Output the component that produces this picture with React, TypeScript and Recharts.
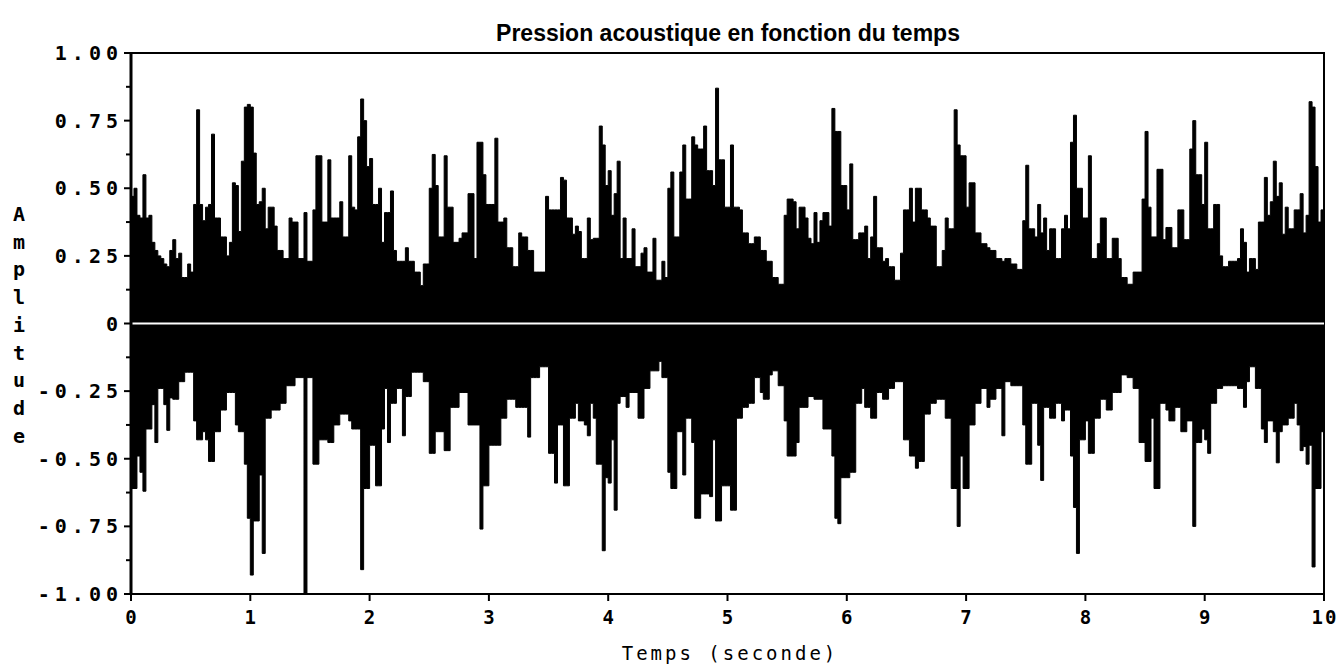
import { Area, ComposedChart, ReferenceArea, ReferenceLine, XAxis, YAxis } from "recharts"

// Envelope of the recorded signal, one value per 25 ms window (40 per second).
const STEP = 0.025

const upperEnvelope = [
	// 0 s
	0.47, 0.5, 0.4, 0.39, 0.55, 0.39, 0.4, 0.3, 0.27, 0.25, 0.24, 0.22, 0.21, 0.27, 0.31, 0.24, 0.26, 0.17, 0.17, 0.22,
	0.19, 0.44, 0.79, 0.44, 0.38, 0.43, 0.44, 0.7, 0.39, 0.39, 0.32, 0.32, 0.25, 0.3, 0.52, 0.51, 0.34, 0.6, 0.8, 0.81,
	// 1 s
	0.8, 0.63, 0.44, 0.45, 0.5, 0.35, 0.43, 0.43, 0.36, 0.27, 0.27, 0.24, 0.24, 0.39, 0.375, 0.375, 0.24, 0.24, 0.41, 0.23,
	0.23, 0.42, 0.62, 0.62, 0.375, 0.375, 0.605, 0.39, 0.39, 0.39, 0.45, 0.32, 0.32, 0.62, 0.43, 0.42, 0.69, 0.83, 0.75, 0.58,
	// 2 s
	0.61, 0.44, 0.44, 0.5, 0.3, 0.41, 0.41, 0.49, 0.27, 0.23, 0.23, 0.23, 0.28, 0.23, 0.23, 0.19, 0.19, 0.14, 0.22, 0.22,
	0.5, 0.625, 0.51, 0.32, 0.32, 0.62, 0.43, 0.43, 0.3, 0.3, 0.315, 0.335, 0.335, 0.48, 0.48, 0.24, 0.67, 0.67, 0.55, 0.44,
	// 3 s
	0.44, 0.44, 0.685, 0.375, 0.375, 0.39, 0.28, 0.28, 0.21, 0.21, 0.335, 0.32, 0.32, 0.27, 0.27, 0.19, 0.19, 0.19, 0.19, 0.47,
	0.42, 0.42, 0.42, 0.42, 0.54, 0.53, 0.39, 0.39, 0.33, 0.36, 0.34, 0.24, 0.24, 0.39, 0.31, 0.315, 0.315, 0.73, 0.66, 0.51,
	// 4 s
	0.565, 0.4, 0.48, 0.6, 0.24, 0.39, 0.24, 0.24, 0.35, 0.21, 0.21, 0.26, 0.28, 0.19, 0.19, 0.315, 0.16, 0.16, 0.23, 0.17,
	0.5, 0.56, 0.32, 0.32, 0.56, 0.66, 0.46, 0.46, 0.69, 0.66, 0.645, 0.645, 0.73, 0.565, 0.565, 0.51, 0.87, 0.605, 0.605, 0.43,
	// 5 s
	0.43, 0.66, 0.43, 0.43, 0.42, 0.335, 0.335, 0.295, 0.295, 0.32, 0.32, 0.27, 0.27, 0.23, 0.23, 0.17, 0.17, 0.145, 0.145, 0.4,
	0.46, 0.46, 0.45, 0.35, 0.43, 0.43, 0.39, 0.315, 0.295, 0.41, 0.3, 0.38, 0.41, 0.41, 0.36, 0.795, 0.71, 0.71, 0.51, 0.51,
	// 6 s
	0.42, 0.59, 0.31, 0.31, 0.335, 0.335, 0.36, 0.24, 0.32, 0.47, 0.28, 0.28, 0.23, 0.24, 0.21, 0.21, 0.16, 0.16, 0.26, 0.42,
	0.42, 0.5, 0.375, 0.5, 0.5, 0.42, 0.42, 0.39, 0.36, 0.36, 0.21, 0.21, 0.27, 0.39, 0.35, 0.35, 0.79, 0.66, 0.62, 0.62,
	// 7 s
	0.43, 0.52, 0.52, 0.335, 0.335, 0.295, 0.295, 0.28, 0.27, 0.27, 0.24, 0.24, 0.23, 0.24, 0.24, 0.22, 0.22, 0.2, 0.2, 0.38,
	0.585, 0.35, 0.35, 0.32, 0.44, 0.335, 0.39, 0.27, 0.35, 0.35, 0.24, 0.24, 0.35, 0.4, 0.35, 0.67, 0.77, 0.5, 0.5, 0.39,
	// 8 s
	0.39, 0.62, 0.24, 0.24, 0.295, 0.39, 0.39, 0.24, 0.24, 0.315, 0.315, 0.24, 0.17, 0.17, 0.145, 0.145, 0.19, 0.19, 0.19, 0.46,
	0.71, 0.43, 0.32, 0.32, 0.57, 0.57, 0.31, 0.355, 0.355, 0.28, 0.28, 0.42, 0.42, 0.31, 0.31, 0.645, 0.75, 0.55, 0.55, 0.44,
	// 9 s
	0.67, 0.35, 0.35, 0.44, 0.44, 0.25, 0.21, 0.21, 0.23, 0.23, 0.23, 0.24, 0.35, 0.3, 0.19, 0.24, 0.24, 0.2, 0.375, 0.375,
	0.54, 0.4, 0.45, 0.6, 0.47, 0.52, 0.33, 0.43, 0.35, 0.35, 0.42, 0.42, 0.48, 0.335, 0.4, 0.82, 0.8, 0.58, 0.375, 0.42,
]

const lowerEnvelope = [
	// 0 s
	-0.61, -0.61, -0.49, -0.55, -0.62, -0.39, -0.39, -0.3, -0.44, -0.24, -0.24, -0.3, -0.395, -0.275, -0.28, -0.28, -0.215, -0.215, -0.18, -0.18,
	-0.18, -0.36, -0.43, -0.43, -0.4, -0.43, -0.51, -0.51, -0.4, -0.4, -0.32, -0.32, -0.255, -0.255, -0.255, -0.375, -0.4, -0.4, -0.52, -0.72,
	// 1 s
	-0.93, -0.73, -0.73, -0.56, -0.85, -0.35, -0.35, -0.32, -0.32, -0.32, -0.295, -0.295, -0.23, -0.23, -0.23, -0.2, -0.2, -0.2, -1.0, -0.2,
	-0.2, -0.52, -0.52, -0.43, -0.43, -0.43, -0.44, -0.44, -0.375, -0.375, -0.335, -0.335, -0.335, -0.36, -0.39, -0.39, -0.39, -0.91, -0.61, -0.61,
	// 2 s
	-0.45, -0.45, -0.6, -0.6, -0.39, -0.24, -0.44, -0.295, -0.295, -0.24, -0.24, -0.415, -0.27, -0.27, -0.18, -0.18, -0.18, -0.18, -0.215, -0.215,
	-0.48, -0.48, -0.4, -0.4, -0.4, -0.47, -0.47, -0.31, -0.31, -0.31, -0.255, -0.255, -0.255, -0.375, -0.375, -0.375, -0.375, -0.76, -0.6, -0.6,
	// 3 s
	-0.45, -0.45, -0.45, -0.45, -0.35, -0.35, -0.28, -0.28, -0.28, -0.31, -0.31, -0.31, -0.31, -0.42, -0.2, -0.2, -0.2, -0.16, -0.16, -0.16,
	-0.48, -0.48, -0.59, -0.375, -0.375, -0.6, -0.6, -0.35, -0.35, -0.295, -0.36, -0.36, -0.375, -0.415, -0.295, -0.35, -0.52, -0.52, -0.84, -0.57,
	// 4 s
	-0.59, -0.43, -0.69, -0.295, -0.27, -0.27, -0.31, -0.255, -0.255, -0.255, -0.35, -0.35, -0.24, -0.24, -0.175, -0.175, -0.175, -0.14, -0.2, -0.2,
	-0.55, -0.61, -0.61, -0.4, -0.4, -0.56, -0.35, -0.35, -0.44, -0.72, -0.72, -0.63, -0.63, -0.63, -0.64, -0.43, -0.73, -0.73, -0.6, -0.6,
	// 5 s
	-0.6, -0.69, -0.69, -0.35, -0.35, -0.31, -0.31, -0.295, -0.295, -0.2, -0.2, -0.255, -0.28, -0.28, -0.19, -0.175, -0.175, -0.23, -0.23, -0.36,
	-0.49, -0.49, -0.49, -0.44, -0.31, -0.31, -0.31, -0.27, -0.27, -0.28, -0.28, -0.28, -0.39, -0.39, -0.39, -0.49, -0.72, -0.74, -0.57, -0.57,
	// 6 s
	-0.57, -0.55, -0.55, -0.295, -0.295, -0.24, -0.31, -0.31, -0.35, -0.35, -0.255, -0.255, -0.28, -0.28, -0.24, -0.24, -0.215, -0.215, -0.215, -0.43,
	-0.43, -0.49, -0.49, -0.535, -0.51, -0.51, -0.335, -0.335, -0.295, -0.295, -0.28, -0.28, -0.28, -0.35, -0.35, -0.61, -0.61, -0.75, -0.49, -0.61,
	// 7 s
	-0.61, -0.375, -0.375, -0.295, -0.295, -0.24, -0.24, -0.31, -0.28, -0.28, -0.24, -0.24, -0.415, -0.215, -0.215, -0.23, -0.23, -0.23, -0.23, -0.375,
	-0.52, -0.52, -0.295, -0.295, -0.45, -0.58, -0.31, -0.31, -0.35, -0.35, -0.295, -0.295, -0.36, -0.32, -0.32, -0.49, -0.68, -0.85, -0.43, -0.43,
	// 8 s
	-0.36, -0.48, -0.48, -0.35, -0.35, -0.28, -0.28, -0.32, -0.32, -0.255, -0.255, -0.255, -0.19, -0.19, -0.2, -0.2, -0.24, -0.24, -0.44, -0.44,
	-0.51, -0.51, -0.35, -0.61, -0.61, -0.295, -0.295, -0.32, -0.36, -0.36, -0.31, -0.31, -0.4, -0.4, -0.36, -0.36, -0.75, -0.44, -0.44, -0.39,
	// 9 s
	-0.43, -0.48, -0.295, -0.295, -0.24, -0.24, -0.23, -0.23, -0.23, -0.23, -0.23, -0.24, -0.24, -0.31, -0.215, -0.16, -0.16, -0.24, -0.24, -0.39,
	-0.44, -0.36, -0.36, -0.4, -0.515, -0.4, -0.375, -0.375, -0.35, -0.35, -0.295, -0.375, -0.47, -0.455, -0.52, -0.45, -0.9, -0.61, -0.61, -0.4,
]

const timeTicks = [0, 1, 2, 3, 4, 5, 6, 7, 8, 9, 10]
const ampMajorTicks = [1, 0.75, 0.5, 0.25, 0, -0.25, -0.5, -0.75, -1]
const ampMajorLabels = ["1.00", "0.75", "0.50", "0.25", "0", "-0.25", "-0.50", "-0.75", "-1.00"]
const ampMinorTicks = [0.875, 0.625, 0.375, 0.125, -0.125, -0.375, -0.625, -0.875]

const TITLE = "Pression acoustique en fonction du temps"
const X_LABEL = "Temps (seconde)"
const Y_LABEL = "Amplitude"

const MONO = "'DejaVu Sans Mono', monospace"

const samples = upperEnvelope.map((hi, i) => ({ t: i * STEP, range: [lowerEnvelope[i], hi] }))
// close the last step on the right border
samples.push({ t: 10, range: samples[samples.length - 1].range })

function AmpTick(props: any) {
	const { x, y, payload } = props
	const idx = ampMajorTicks.indexOf(payload.value)
	const major = idx >= 0
	return (
		<g>
			<line x1={x - (major ? 7 : 5)} x2={x} y1={y} y2={y} stroke="#000" strokeWidth={2} />
			{major && (
				<text
					x={x - 8}
					y={y}
					dy={7}
					textAnchor="end"
					fontFamily={MONO}
					fontWeight="bold"
					fontSize={20}
					letterSpacing={5}
					fill="#000"
				>
					{ampMajorLabels[idx]}
				</text>
			)}
		</g>
	)
}

function TimeTick(props: any) {
	const { x, y, payload } = props
	return (
		<g>
			<line x1={x} x2={x} y1={y} y2={y + 7} stroke="#000" strokeWidth={2} />
			<text
				x={x + 1}
				y={y + 30}
				textAnchor="middle"
				fontFamily={MONO}
				fontWeight="bold"
				fontSize={19}
				letterSpacing={2}
				fill="#000"
			>
				{payload.value}
			</text>
		</g>
	)
}

export default function App() {
	return (
		<div style={{ position: "absolute", left: 0, top: 0, width: 1342, height: 672, background: "#fff" }}>
			<ComposedChart
				width={1342}
				height={672}
				data={samples}
				margin={{ top: 53, right: 18, bottom: 48, left: 71 }}
			>
				<XAxis
					dataKey="t"
					type="number"
					domain={[0, 10]}
					ticks={timeTicks}
					interval={0}
					height={30}
					tickLine={false}
					tickSize={0}
					tickMargin={0}
					tick={<TimeTick />}
					axisLine={{ stroke: "#000", strokeWidth: 2 }}
					allowDataOverflow
				/>
				<YAxis
					type="number"
					domain={[-1, 1]}
					ticks={[...ampMajorTicks, ...ampMinorTicks]}
					interval={0}
					width={60}
					tickLine={false}
					tickSize={0}
					tickMargin={0}
					tick={<AmpTick />}
					axisLine={{ stroke: "#000", strokeWidth: 3 }}
					allowDataOverflow
				/>
				<Area
					type="stepAfter"
					dataKey="range"
					stroke="#000"
					strokeWidth={1}
					fill="#000"
					fillOpacity={1}
					dot={false}
					activeDot={false}
					isAnimationActive={false}
				/>
				<ReferenceLine y={0} stroke="#fff" strokeWidth={2} />
				<ReferenceArea x1={0} x2={10} y1={-1} y2={1} fill="none" stroke="#000" strokeWidth={2} />
			</ComposedChart>
			<svg width={1342} height={672} style={{ position: "absolute", left: 0, top: 0, pointerEvents: "none" }}>
				<text
					x={728}
					y={41}
					textAnchor="middle"
					fontFamily="'Liberation Sans', Arial, sans-serif"
					fontWeight="bold"
					fontSize={23}
					fill="#000"
				>
					{TITLE}
				</text>
				<text
					x={730}
					y={660}
					textAnchor="middle"
					fontFamily={MONO}
					fontSize={19}
					letterSpacing={3}
					fill="#000"
				>
					{X_LABEL}
				</text>
				{Y_LABEL.split("").map((ch, i) => (
					<text
						key={i}
						x={19}
						y={221 + i * 27.7}
						textAnchor="middle"
						fontFamily={MONO}
						fontWeight="bold"
						fontSize={20}
						fill="#000"
					>
						{ch}
					</text>
				))}
			</svg>
		</div>
	)
}
